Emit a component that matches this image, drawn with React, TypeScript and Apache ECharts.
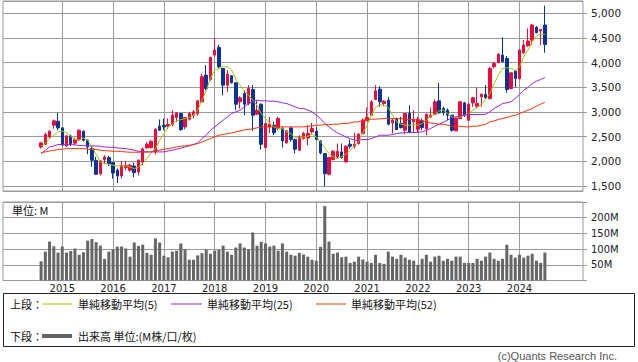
import React, { useEffect, useRef } from 'react';
import * as echarts from 'echarts';

// ---- data (monthly, Aug 2014 .. Jul 2024) ----
const firstDataYear = 2014;
const firstDataMonth = 8; // August
const padBefore = 9; // empty months drawn left of the first candle
const padAfter = 9; // empty months drawn right of the last candle

const yearLabels = ['2015', '2016', '2017', '2018', '2019', '2020', '2021', '2022', '2023', '2024'];

const open = [
  2290, 2347, 2500, 2733, 2814, 2680, 2314, 2517, 2370, 2440,
  2610, 2430, 2260, 2020, 1750, 2036, 2077, 1975, 1820, 1705,
  1874, 1820, 1907, 1786, 1990, 2273, 2280, 2192, 2713, 2733,
  2713, 2753, 2889, 2970, 2699, 2855, 2936, 2970, 3207, 3748,
  3660, 4154, 4310, 3883, 3545, 3734, 3592, 3207, 3376, 3173,
  3457, 2956, 3159, 2280, 2699, 2733, 2665, 2665, 2374, 2679,
  2442, 2226, 2462, 2476, 2598, 2611, 2415, 2158, 1738, 2036,
  2090, 2192, 1989, 2347, 2307, 2361, 2564, 2821, 2936, 3254,
  3464, 3173, 3241, 2780, 2868, 2767, 2632, 2970, 2801, 2650,
  2821, 2665, 2902, 2956, 3227, 3072, 3038, 2936, 2618, 2868,
  3186, 2834, 3186, 3119, 3308, 3356, 3274, 3917, 4005, 4154,
  4086, 3477, 3829, 3680, 4201, 4343, 4459, 4716, 4641, 4763,
];
const close = [
  2375, 2544, 2610, 2821, 2680, 2330, 2517, 2360, 2440, 2630,
  2430, 2293, 2023, 1740, 2010, 2090, 1955, 1765, 1705, 1921,
  1921, 1921, 1772, 2023, 2250, 2347, 2410, 2652, 2632, 2699,
  2747, 2936, 2983, 2645, 2889, 2970, 3004, 3227, 3714, 3477,
  4107, 4256, 3917, 3545, 3768, 3592, 3159, 3288, 3159, 3477,
  2936, 3038, 2347, 2767, 2753, 2577, 2868, 2415, 2618, 2442,
  2246, 2496, 2564, 2564, 2665, 2442, 2171, 1752, 2077, 2205,
  2205, 2077, 2307, 2307, 2347, 2550, 2835, 2889, 3207, 3430,
  3207, 3220, 2753, 2835, 2645, 2686, 2970, 2598, 2835, 2850,
  2686, 2956, 2936, 3207, 2983, 2990, 2936, 2632, 2868, 3207,
  2936, 3159, 3288, 3173, 3362, 3288, 3883, 3985, 4174, 4019,
  3457, 3795, 3680, 4256, 4357, 4438, 4763, 4608, 4675, 4371,
];
const low = [
  2260, 2330, 2470, 2665, 2630, 2310, 2290, 2310, 2330, 2420,
  2400, 2144, 1890, 1725, 1720, 1941, 1907, 1650, 1562, 1650,
  1820, 1790, 1680, 1720, 1920, 2260, 2260, 2140, 2620, 2630,
  2660, 2710, 2800, 2620, 2650, 2830, 2870, 2930, 3190, 3440,
  3630, 4120, 3880, 3340, 3410, 3580, 3040, 3070, 2940, 3139,
  2618, 2936, 2239, 2259, 2577, 2530, 2632, 2280, 2361, 2396,
  2158, 2212, 2442, 2327, 2564, 2429, 2144, 1495, 1718, 2023,
  2056, 2056, 1975, 2259, 2259, 2340, 2550, 2821, 2922, 3241,
  3105, 3119, 2733, 2564, 2632, 2665, 2550, 2577, 2577, 2580,
  2632, 2530, 2880, 2936, 2970, 2930, 2835, 2598, 2618, 2855,
  2902, 2821, 3105, 3072, 3105, 3274, 3254, 3883, 3985, 4019,
  3390, 3457, 3498, 3660, 4174, 4323, 4357, 4594, 4357, 4201,
];
const high = [
  2395, 2580, 2630, 2848, 2983, 2700, 2530, 2540, 2480, 2650,
  2630, 2442, 2300, 2090, 2030, 2124, 2110, 1989, 1853, 2010,
  2010, 1950, 1975, 2040, 2280, 2390, 2420, 2670, 2850, 2870,
  2870, 3040, 3000, 2983, 2900, 3000, 3040, 3241, 3770, 3950,
  4120, 4500, 4360, 3883, 3850, 3750, 3610, 3320, 3445, 3545,
  3545, 3241, 3173, 2780, 2902, 2801, 2902, 2699, 2632, 2699,
  2462, 2530, 2598, 2733, 2780, 2699, 2429, 2171, 2090, 2226,
  2361, 2361, 2327, 2442, 2577, 2577, 2868, 3092, 3241, 3545,
  3525, 3241, 3308, 2868, 2889, 2902, 2983, 3139, 3038, 2900,
  2868, 2970, 3092, 3254, 3592, 3110, 3072, 2936, 2888, 3220,
  3207, 3173, 3308, 3498, 3376, 3545, 3917, 4019, 4188, 4513,
  4134, 3795, 3850, 4269, 4459, 4695, 4783, 4743, 4675, 5156,
];
const ma5 = [
  2307, 2361, 2462, 2530, 2598, 2611, 2577, 2510, 2442, 2429,
  2476, 2429, 2293, 2144, 1989, 1955, 1941, 1921, 1907, 1907,
  1907, 1887, 1853, 1887, 1955, 2056, 2171, 2259, 2429, 2564,
  2699, 2767, 2821, 2848, 2868, 2889, 2936, 3038, 3241, 3430,
  3680, 3850, 3883, 3917, 3917, 3850, 3660, 3545, 3430, 3342,
  3241, 3139, 2970, 2868, 2767, 2699, 2665, 2665, 2598, 2564,
  2483, 2476, 2496, 2510, 2550, 2496, 2395, 2280, 2158, 2090,
  2056, 2103, 2144, 2226, 2313, 2395, 2577, 2733, 2936, 3092,
  3153, 3139, 3092, 2936, 2801, 2753, 2733, 2733, 2747, 2733,
  2767, 2835, 2916, 2956, 3024, 3045, 2970, 2902, 2889, 2902,
  2936, 2956, 3038, 3092, 3159, 3254, 3376, 3579, 3748, 3883,
  3897, 3883, 3836, 3917, 4120, 4256, 4425, 4540, 4580, 4574,
];
const ma25 = [
  2158, 2226, 2293, 2313, 2341, 2341, 2341, 2341, 2334, 2320,
  2320, 2313, 2313, 2313, 2307, 2293, 2286, 2286, 2273, 2266,
  2259, 2246, 2226, 2205, 2192, 2192, 2192, 2192, 2192, 2192,
  2212, 2226, 2246, 2266, 2293, 2313, 2341, 2374, 2462, 2530,
  2632, 2699, 2767, 2835, 2902, 2970, 3004, 3038, 3105, 3173,
  3207, 3241, 3227, 3227, 3220, 3220, 3207, 3186, 3173, 3139,
  3105, 3071, 3071, 3038, 3004, 2936, 2868, 2767, 2699, 2632,
  2577, 2537, 2496, 2462, 2429, 2429, 2442, 2442, 2462, 2496,
  2530, 2530, 2530, 2544, 2564, 2577, 2584, 2584, 2584, 2591,
  2598, 2632, 2665, 2713, 2753, 2794, 2835, 2889, 2902, 2923,
  2936, 2950, 2950, 2950, 2950, 2956, 3004, 3071, 3119, 3173,
  3186, 3207, 3274, 3356, 3444, 3498, 3579, 3626, 3660, 3701,
];
const ma52 = [
  2178, 2192, 2212, 2226, 2239, 2246, 2259, 2259, 2259, 2259,
  2259, 2246, 2239, 2239, 2226, 2219, 2212, 2205, 2205, 2198,
  2192, 2185, 2185, 2185, 2192, 2192, 2192, 2212, 2226, 2246,
  2259, 2273, 2293, 2307, 2313, 2327, 2341, 2361, 2395, 2429,
  2462, 2496, 2530, 2544, 2564, 2577, 2598, 2618, 2638, 2645,
  2665, 2679, 2699, 2699, 2699, 2699, 2699, 2699, 2699, 2699,
  2699, 2699, 2699, 2713, 2713, 2733, 2733, 2747, 2747, 2753,
  2753, 2767, 2767, 2780, 2801, 2801, 2835, 2848, 2855, 2855,
  2862, 2868, 2868, 2868, 2868, 2868, 2855, 2848, 2848, 2835,
  2821, 2801, 2780, 2767, 2753, 2753, 2733, 2713, 2713, 2713,
  2699, 2699, 2713, 2713, 2733, 2753, 2801, 2821, 2848, 2868,
  2889, 2916, 2936, 2970, 3004, 3038, 3071, 3119, 3159, 3200,
];
const volumeM = [
  61, 92, 124, 109, 89, 108, 89, 94, 102, 82,
  90, 127, 132, 122, 111, 69, 92, 99, 108, 108,
  102, 76, 121, 110, 114, 88, 82, 134, 121, 79,
  74, 92, 95, 118, 99, 66, 66, 80, 87, 99,
  85, 95, 98, 111, 92, 82, 105, 118, 105, 99,
  153, 111, 123, 118, 108, 111, 95, 118, 92, 82,
  79, 88, 83, 76, 66, 63, 107, 237, 124, 85,
  89, 74, 76, 56, 60, 76, 67, 60, 56, 82,
  56, 53, 92, 76, 69, 82, 73, 66, 63, 50,
  69, 82, 60, 76, 79, 63, 69, 63, 76, 76,
  56, 56, 56, 69, 63, 76, 89, 69, 63, 69,
  114, 82, 73, 82, 73, 79, 85, 63, 56, 89,
];

const priceTicks = [1500, 2000, 2500, 3000, 3500, 4000, 4500, 5000];
const volumeTicks = [50, 100, 150, 200];

// month category labels (YYYY-MM), padded on both sides
const buildCategories = (): string[] => {
  const total = padBefore + open.length + padAfter;
  const out: string[] = [];
  const start = firstDataYear * 12 + (firstDataMonth - 1) - padBefore;
  for (let i = 0; i < total; i++) {
    const m = start + i;
    const y = Math.floor(m / 12);
    const mm = (m % 12) + 1;
    out.push(`${y}-${mm < 10 ? '0' + mm : mm}`);
  }
  return out;
};
const categories = buildCategories();

const C_UP = '#f0083a';
const C_DOWN = '#08349a';
const C_MA5 = '#99cc00';
const C_MA25 = '#9922ee';
const C_MA52 = '#ff3300';
const C_VOL = '#666666';
const C_GRID = '#9a9a9a';
const NUM_FONT = '"DejaVu Sans", Verdana, sans-serif';
const JP_FONT = '"Noto Sans CJK JP", "Noto Sans", sans-serif';

const isYearTick = (_i: number, v: string) =>
  v.endsWith('-01') && yearLabels.includes(v.slice(0, 4));

export default function App() {
  const ref = useRef<HTMLDivElement>(null);
  useEffect(() => {
    if (!ref.current) return;
    const chart = echarts.init(ref.current, undefined, { renderer: 'svg' });

    const candleData = open.map((o, i) => [i + padBefore, o, close[i], low[i], high[i]]);
    const line = (arr: number[]) => arr.map((v, i) => [i + padBefore, v]);
    const volData = volumeM.map((v, i) => [i + padBefore, v]);

    const legendRowY1 = 304;
    const legendRowY2 = 336;
    const txt = (text: string, x: number, y: number, extra: any = {}) => ({
      type: 'text',
      silent: true,
      style: {
        text,
        x,
        y,
        fill: '#111',
        fontSize: 11,
        fontFamily: JP_FONT,
        verticalAlign: 'middle',
        align: 'left',
        ...extra,
      },
    });
    const seg = (x1: number, x2: number, y: number, color: string, w = 1) => ({
      type: 'line',
      silent: true,
      shape: { x1, y1: y, x2, y2: y },
      style: { stroke: color, lineWidth: w },
    });

    const option: any = {
      animation: false,
      grid: [
        { left: 3, right: 55, top: 1, height: 190, show: true, borderColor: C_GRID, borderWidth: 1 },
        { left: 3, right: 55, top: 202, height: 78.5, show: true, borderColor: C_GRID, borderWidth: 1 },
      ],
      xAxis: [
        {
          type: 'category',
          gridIndex: 0,
          data: categories,
          boundaryGap: false,
          axisLine: { show: false },
          axisTick: { show: false },
          axisLabel: { show: false },
          splitLine: { show: true, interval: isYearTick, lineStyle: { color: C_GRID, width: 1 } },
        },
        {
          type: 'category',
          gridIndex: 1,
          data: categories,
          boundaryGap: false,
          axisLine: { show: false },
          axisTick: { show: false },
          axisLabel: {
            show: true,
            interval: isYearTick,
            formatter: (v: string) => v.slice(0, 4),
            margin: 3,
            fontSize: 10,
            color: '#222',
            fontFamily: NUM_FONT,
          },
          splitLine: { show: true, interval: isYearTick, lineStyle: { color: C_GRID, width: 1 } },
        },
      ],
      yAxis: [
        {
          type: 'value',
          gridIndex: 0,
          position: 'right',
          min: 1400,
          max: 5250,
          splitNumber: 8,
          minInterval: 500,
          maxInterval: 500,
          axisLine: { show: false },
          axisTick: { show: true, length: 4, lineStyle: { color: C_GRID } },
          axisLabel: {
            margin: 8,
            fontSize: 10.5,
            color: '#222',
            fontFamily: NUM_FONT,
            showMinLabel: false,
            showMaxLabel: false,
            formatter: (v: number) => (priceTicks.includes(v) ? v.toLocaleString('en-US') : ''),
          },
          splitLine: { show: true, lineStyle: { color: C_GRID, width: 1 } },
        },
        {
          type: 'value',
          gridIndex: 1,
          position: 'right',
          min: 0,
          max: 250,
          interval: 50,
          axisLine: { show: false },
          axisTick: { show: true, length: 4, lineStyle: { color: C_GRID } },
          axisLabel: {
            margin: 8,
            fontSize: 10,
            color: '#222',
            fontFamily: NUM_FONT,
            formatter: (v: number) => (volumeTicks.includes(v) ? v + 'M' : ''),
          },
          splitLine: { show: true, lineStyle: { color: C_GRID, width: 1 } },
        },
      ],
      series: [
        {
          type: 'candlestick',
          xAxisIndex: 0,
          yAxisIndex: 0,
          data: candleData,
          encode: { x: 0, y: [1, 2, 3, 4] },
          barWidth: 3,
          clip: false,
          itemStyle: {
            color: C_UP,
            color0: C_DOWN,
            borderColor: C_UP,
            borderColor0: C_DOWN,
            borderWidth: 1,
          },
        },
        {
          type: 'line', xAxisIndex: 0, yAxisIndex: 0, data: line(ma5),
          symbol: 'none', lineStyle: { color: C_MA5, width: 1 }, itemStyle: { color: C_MA5 },
        },
        {
          type: 'line', xAxisIndex: 0, yAxisIndex: 0, data: line(ma25),
          symbol: 'none', lineStyle: { color: C_MA25, width: 1 }, itemStyle: { color: C_MA25 },
        },
        {
          type: 'line', xAxisIndex: 0, yAxisIndex: 0, data: line(ma52),
          symbol: 'none', lineStyle: { color: C_MA52, width: 1 }, itemStyle: { color: C_MA52 },
        },
        {
          type: 'bar', xAxisIndex: 1, yAxisIndex: 1, data: volData,
          barWidth: 3, itemStyle: { color: C_VOL },
        },
      ],
      graphic: [
        txt('単位: M', 12, 209.5, { fontSize: 11 }),
        {
          type: 'rect',
          silent: true,
          shape: { x: 3.5, y: 293.5, width: 631, height: 53 },
          style: { fill: 'none', stroke: '#222', lineWidth: 1 },
        },
        txt('上段：', 10, legendRowY1),
        seg(42, 72, legendRowY1, C_MA5),
        txt('単純移動平均(5)', 78, legendRowY1),
        seg(171, 202, legendRowY1, C_MA25),
        txt('単純移動平均(25)', 207, legendRowY1),
        seg(316, 346, legendRowY1, C_MA52),
        txt('単純移動平均(52)', 351, legendRowY1),
        txt('下段：', 10, legendRowY2),
        seg(42, 72, legendRowY2, C_VOL, 4),
        txt('出来高 単位:(M株/口/枚)', 78, legendRowY2),
        txt('(c)Quants Research Inc.', 617, 355.5, {
          align: 'right',
          fontSize: 11,
          fill: '#555',
          fontFamily: '"Liberation Sans", Arial, sans-serif',
        }),
      ],
    };
    chart.setOption(option);
    return () => chart.dispose();
  }, []);

  return (
    <div
      ref={ref}
      style={{ position: 'fixed', left: 0, top: 0, width: 638, height: 362, background: '#fff' }}
    />
  );
}
